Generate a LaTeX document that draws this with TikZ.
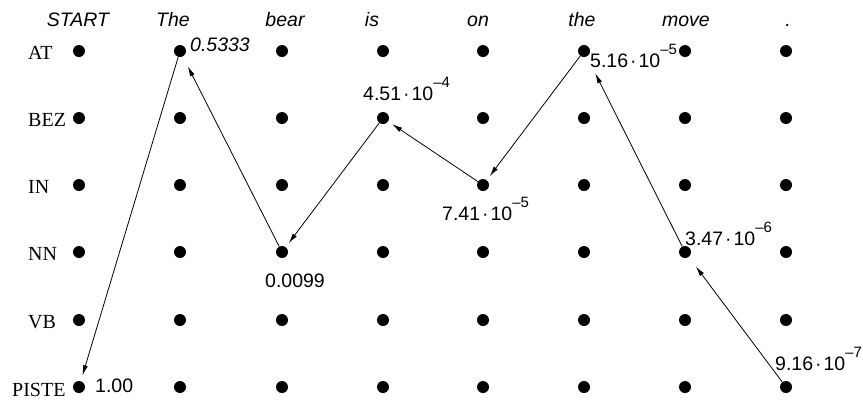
\documentclass[tikz,border=0pt]{standalone}
\usepackage{fontspec}
\setmainfont{Liberation Serif}
\setsansfont{Liberation Sans}
\usetikzlibrary{arrows.meta}
\newcommand{\tenpow}[1]{10\raisebox{13pt}{\fontsize{15}{15}\selectfont --#1}}
\newcommand{\cdotsep}{\hspace{2pt}·\hspace{2pt}}
\tikzset{
  dot/.style={circle, fill, inner sep=0pt, minimum size=12pt},
  tag/.style={font=\fontsize{20}{22}\selectfont\rmfamily, anchor=base west},
  word/.style={font=\fontsize{19.5}{22}\selectfont\sffamily\itshape, anchor=base},
  prob/.style={font=\fontsize{19.5}{22}\selectfont\sffamily, anchor=base west, inner sep=0pt},
  back/.style={-{Latex[length=10pt,width=5pt]}, line width=0.8pt}
}
\begin{document}
\begin{tikzpicture}[x=1pt, y=-1pt]
  \useasboundingbox (0,0) rectangle (863,400);
  % lattice of tags by words
  \foreach \x [count=\i from 0] in {79,180,282,383,483,584,685,786} {
    \foreach \y [count=\j from 0] in {51,118,185,252,320,387} {
      \node[dot] (d\i-\j) at (\x,\y) {};
    }
  }
  % words on top
  \foreach \w/\x [count=\i from 0] in {START/78, The/173, bear/285, is/372, on/478, the/582, move/686, ./788} {
    \node[word] (w\i) at (\x,26) {\w};
  }
  % tags on the left
  \foreach \t/\x/\y [count=\j from 0] in {AT/28/59, BEZ/28/126, IN/28/193, NN/28/260, VB/28/328, PISTE/12/396} {
    \node[tag, inner sep=0pt] (t\j) at (\x,\y) {\t};
  }
  % back pointers
  \draw[back, shorten >=6pt] (d1-0) -- (d0-5);
  \draw[back, shorten >=11pt] (d2-3) -- (d1-0);
  \draw[back, shorten >=5pt] (d3-1) -- (d2-3);
  \draw[back, shorten >=5pt] (d4-2) -- (d3-1);
  \draw[back, shorten >=5pt] (d5-0) -- (d4-2);
  \draw[back, shorten >=19pt] (d6-3) -- (d5-0);
  \draw[back, shorten >=12pt] (d7-5) -- (d6-3);
  % scores
  \node[prob] (p0) at (95,392) {1.00};
  \node[prob, font=\fontsize{19.5}{22}\selectfont\sffamily\itshape] (p1) at (190,51) {0.5333};
  \node[prob, anchor=base] (p2) at (295,287) {0.0099};
  \node[prob] (p3) at (363,100) {4.51\cdotsep\tenpow{4}};
  \node[prob] (p4) at (442,220) {7.41\cdotsep\tenpow{5}};
  \node[prob] (p5) at (590,67) {5.16\cdotsep\tenpow{5}};
  \node[prob] (p6) at (685,245) {3.47\cdotsep\tenpow{6}};
  \node[prob] (p7) at (775,370) {9.16\cdotsep\tenpow{7}};
\end{tikzpicture}
\end{document}
